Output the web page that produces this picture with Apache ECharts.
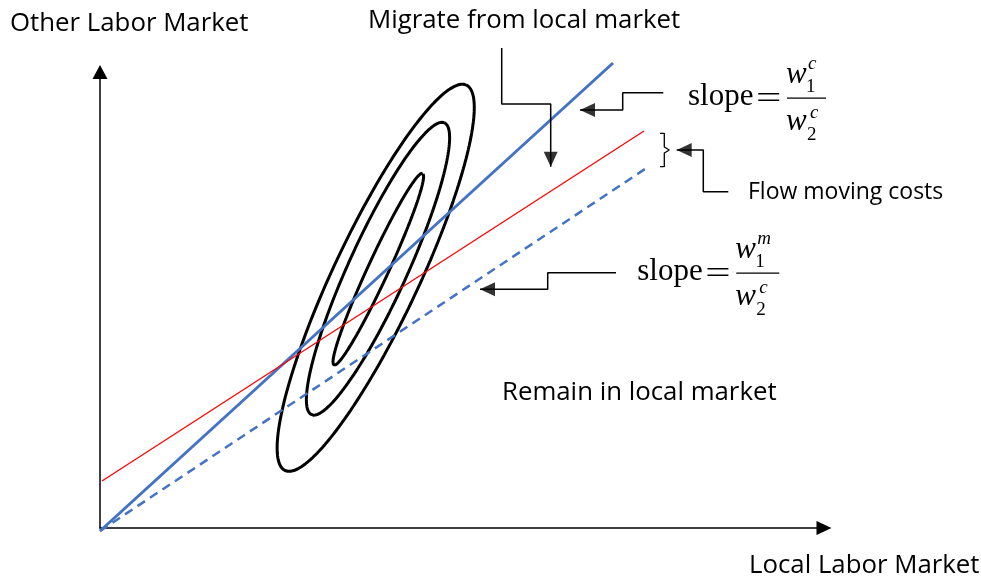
<!DOCTYPE html>
<html>
<head>
<meta charset="utf-8">
<title>Local vs other labor market</title>
<script src="https://cdn.jsdelivr.net/npm/echarts@6/dist/echarts.min.js"></script>
<style>
  html, body { margin: 0; padding: 0; background: #fff; }
  #chart { width: 981px; height: 582px; }
</style>
</head>
<body>
<div id="chart"></div>
<script>
// axis units are pixels, origin at the corner of the two axes
const xMax = 724
const yMax = 456

// straight lines [x, y]
const blueSolid = [[0, -3], [513, 465]]
const redLine = [[2, 47], [544, 397]]
const blueDashed = [[0, -3], [548, 361]]

// contour ellipses: [centerX, centerY, semiMajor, semiMinor, angleDeg]
const outerContour = [275.7, 250.2, 213, 42.7, 64.8]
const middleContour = [278, 259.3, 160.4, 29.2, 65.5]
const innerContour = [278.3, 258.8, 105.7, 10.4, 65.2]

// callouts, the last point is the arrow tip
const migrateCallout = [[401.7, 480], [401.7, 424], [450.7, 424], [450.7, 361.3]]
const slopeCCallout = [[563.3, 435.3], [522.7, 435.3], [522.7, 418], [480, 418]]
const flowCallout = [[628.3, 336.3], [603.3, 336.3], [603.3, 378], [576.7, 378]]
const slopeMCallout = [[516, 255.3], [447.7, 255.3], [447.7, 238.7], [380, 238.7]]
const bracket = [[560, 394.7], [564.3, 394.7], [564.3, 381], [569.3, 378], [564.3, 375], [564.3, 361.3], [560, 361.3]]

// ellipse outline from its parameters
function ellipse(p) {
  const [cx, cy, a, b, deg] = p
  const t = deg * Math.PI / 180
  const pts = []
  for (let i = 0; i <= 200; i++) {
    const s = i / 200 * 2 * Math.PI
    const x = a * Math.cos(s)
    const y = b * Math.sin(s)
    pts.push([cx + x * Math.cos(t) - y * Math.sin(t), cy + x * Math.sin(t) + y * Math.cos(t)])
  }
  return pts
}

// triangle centred half a length behind the tip, turned along the last segment
function arrowHead(line, len) {
  const [px, py] = line[line.length - 2]
  const [tx, ty] = line[line.length - 1]
  const ang = Math.atan2(ty - py, tx - px)
  return {
    value: [tx - Math.cos(ang) * len / 2, ty - Math.sin(ang) * len / 2],
    symbolRotate: ang * 180 / Math.PI - 90
  }
}

function path(data, color, width, type) {
  return {
    type: 'line',
    data,
    symbol: 'none',
    clip: false,
    silent: true,
    lineStyle: { color, width, type: type || 'solid' }
  }
}

const sans = '"Open Sans", sans-serif'
const serif = '"Liberation Serif", "Times New Roman", serif'

function label(text, x, y, size) {
  return {
    type: 'text',
    x,
    y,
    style: { text, fontFamily: sans, fontSize: size, fill: '#000', align: 'left', verticalAlign: 'middle' }
  }
}

// slope = w1^sup / w2^c, placed by the left edge and baseline of "slope"
function formula(x0, base, sup, barW) {
  const big = 31
  const small = 19
  const t = (text, x, baseline, size, italic) => ({
    type: 'text',
    x,
    y: baseline - size * 0.3375,
    style: {
      text,
      fontFamily: serif,
      fontSize: size,
      fontStyle: italic ? 'italic' : 'normal',
      fill: '#000',
      align: 'left',
      verticalAlign: 'middle'
    }
  })
  const eq = t('=', x0 + 68, base + 2.5, big)
  eq.scaleX = 1.45
  return [
    t('slope', x0, base, big),
    eq,
    {
      type: 'line',
      shape: { x1: x0 + 99, y1: base - 9.6, x2: x0 + 99 + barW, y2: base - 9.6 },
      style: { stroke: '#000', lineWidth: 1.3 }
    },
    t('w', x0 + 98, base - 22.7, big, true),
    t('1', x0 + 118, base - 14.4, small),
    t(sup, x0 + 120, base - 37.7, small, true),
    t('w', x0 + 98, base + 25, big, true),
    t('2', x0 + 119, base + 34, small),
    t('c', x0 + 122, base + 11.6, small, true)
  ]
}

const chart = echarts.init(document.getElementById('chart'))

const hiddenParts = {
  axisTick: { show: false },
  axisLabel: { show: false },
  splitLine: { show: false }
}

chart.setOption({
  animation: false,
  grid: { left: 100, right: 157, top: 72, bottom: 54 },
  xAxis: Object.assign({
    type: 'value',
    min: 0,
    max: xMax,
    axisLine: {
      show: true,
      symbol: ['none', 'triangle'],
      symbolSize: [14, 15],
      lineStyle: { color: '#000', width: 1.5 }
    }
  }, hiddenParts),
  yAxis: Object.assign({
    type: 'value',
    min: 0,
    max: yMax,
    axisLine: {
      show: true,
      symbol: ['none', 'triangle'],
      symbolSize: [15, 14],
      lineStyle: { color: '#000', width: 1.5 }
    }
  }, hiddenParts),
  series: [
    path(ellipse(outerContour), '#000', 3),
    path(ellipse(middleContour), '#000', 3),
    path(ellipse(innerContour), '#000', 3),
    path(blueSolid, '#4472C4', 3),
    path(redLine, '#FF0000', 1.3),
    path(blueDashed, '#4472C4', 2.5, [9, 6]),
    path(migrateCallout, '#000', 1.5),
    path(slopeCCallout, '#000', 1.5),
    path(flowCallout, '#000', 1.5),
    path(slopeMCallout, '#000', 1.5),
    path(bracket, '#000', 1.3),
    {
      type: 'scatter',
      symbol: 'triangle',
      symbolSize: [14, 15],
      clip: false,
      silent: true,
      itemStyle: { color: '#000' },
      data: [
        arrowHead(migrateCallout, 15),
        arrowHead(slopeCCallout, 15),
        arrowHead(flowCallout, 15),
        arrowHead(slopeMCallout, 15)
      ]
    }
  ],
  graphic: [
    label('Other Labor Market', 10, 24, 25.8),
    label('Migrate from local market', 368, 20.5, 25.8),
    label('Flow moving costs', 748, 192, 23),
    label('Remain in local market', 502, 393, 25.8),
    label('Local Labor Market', 749, 566, 25.8)
  ].concat(formula(688, 107.7, 'c', 39), formula(637.3, 282.7, 'm', 43))
})
</script>
</body>
</html>
